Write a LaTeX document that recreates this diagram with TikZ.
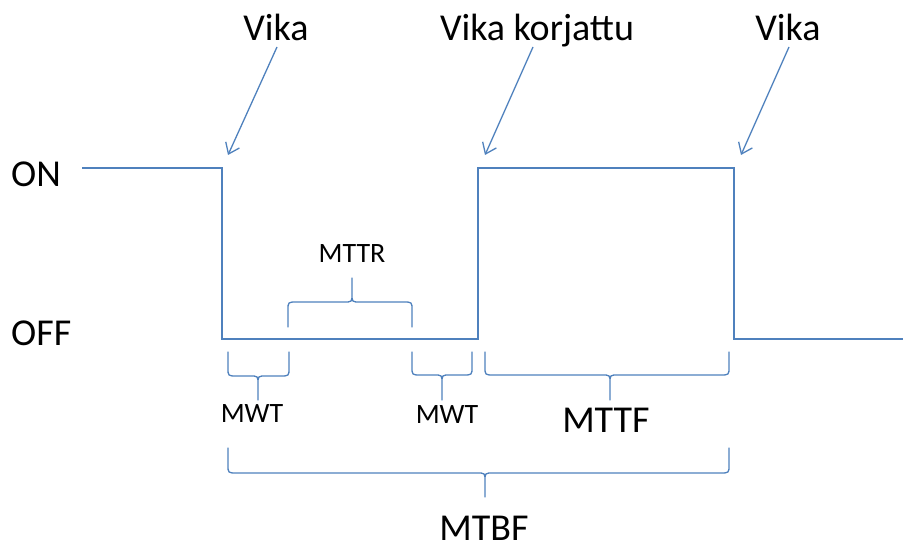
\documentclass[tikz,border=0pt]{standalone}
\usepackage{fontspec}
\setmainfont{Carlito}
\usetikzlibrary{arrows.meta,calc}
\definecolor{linkblue}{RGB}{79,129,189}

% Curly brace between x1 and x2 with its tip at xt:
% #4 end height, #5 bar height, #6 tip height, #7 signed corner depth
\newcommand\timebrace[7]{%
  \draw[bracestyle]
    (#1,#4) -- (#1,{#5-(#7)}) .. controls (#1,#5) .. ({#1+9},#5)
    -- ({#3-8},#5) .. controls (#3,#5) .. (#3,{#5+(#7)}) -- (#3,#6)
    (#2,#4) -- (#2,{#5-(#7)}) .. controls (#2,#5) .. ({#2-9},#5)
    -- ({#3+8},#5) .. controls (#3,#5) .. (#3,{#5+(#7)});}

\tikzset{
  signal/.style={draw=linkblue, line width=1.6pt, line join=miter},
  bracestyle/.style={draw=linkblue, line width=1.3pt, line cap=round},
  pointer/.style={draw=linkblue, line width=1.3pt,
    -{Straight Barb[length=10pt,width=15pt,line width=1.3pt]}},
  biglabel/.style={inner sep=0pt, anchor=base, font=\fontsize{38}{40}\selectfont},
  smalllabel/.style={inner sep=0pt, anchor=base, font=\fontsize{28}{30}\selectfont},
}

\begin{document}
\begin{tikzpicture}[x=1pt,y=-1pt]
\useasboundingbox (0,0) rectangle (903,548);

% state levels
\node[biglabel, anchor=base west] (on)  at (11,187) {ON};
\node[biglabel, anchor=base west] (off) at (11,345) {OFF};

% ON/OFF signal
\draw[signal] (82,168) -- (222,168) -- (222,339) -- (478,339)
  -- (478,168) -- (734,168) -- (734,339) -- (903,339);

% events
\node[biglabel] (v1) at (276,41) {Vika};
\node[biglabel] (v2) at (537,41) {Vika korjattu};
\node[biglabel] (v3) at (788,41) {Vika};
\coordinate (f1) at (228,155);
\coordinate (f2) at (485,155);
\coordinate (f3) at (741,155);
\draw[pointer] ($(v1.base)+(1,6)$) -- (f1);
\draw[pointer] ($(v2.base)+(-4,6)$) -- (f2);
\draw[pointer] ($(v3.base)+(1,6)$) -- (f3);

% intervals
\timebrace{288}{412}{352}{327}{302}{278}{-8}
\node[smalllabel] (mttr) at (352,263) {MTTR};

\timebrace{228}{289}{258}{352}{376}{400}{8}
\node[smalllabel] (mwt1) at (252,422) {MWT};

\timebrace{412}{472}{442}{352}{375}{400}{8}
\node[smalllabel] (mwt2) at (447,423) {MWT};

\timebrace{485}{729}{610}{352}{375}{400}{8}
\node[biglabel] (mttf) at (606,432) {MTTF};

\timebrace{228}{729}{485}{448}{473}{497}{8}
\node[biglabel] (mtbf) at (484,540) {MTBF};
\end{tikzpicture}
\end{document}
